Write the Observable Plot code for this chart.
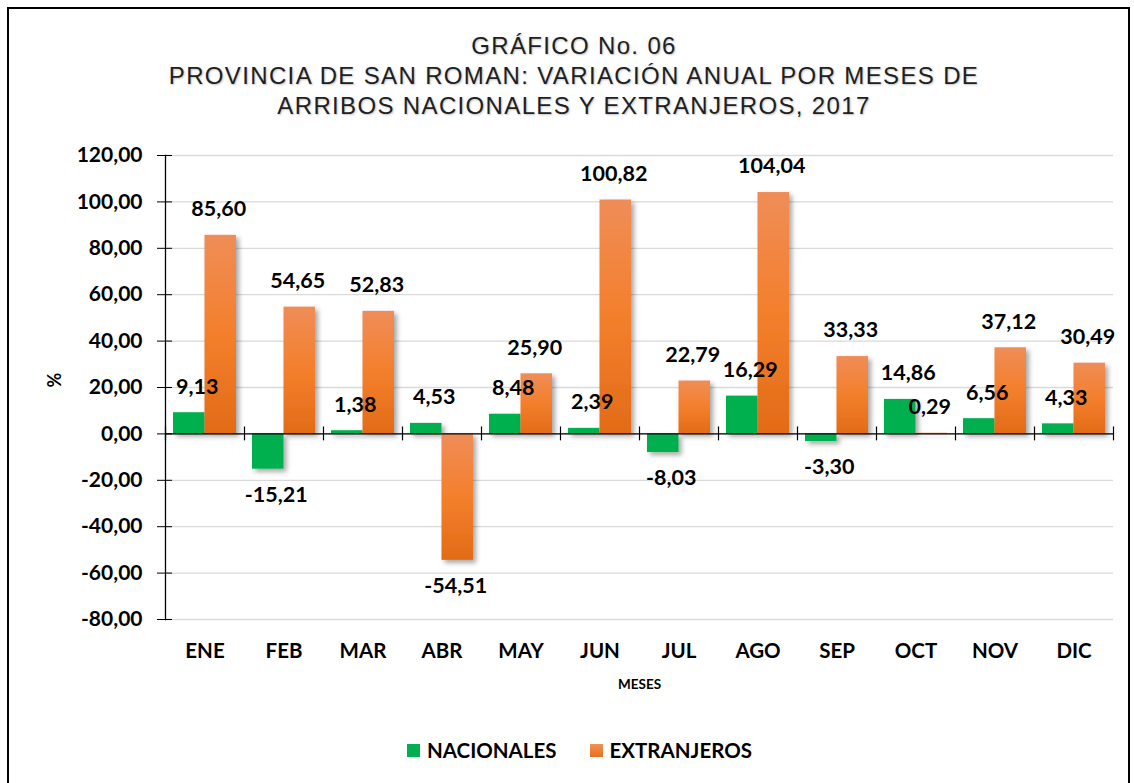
<!DOCTYPE html>
<html>
<head>
<meta charset="utf-8">
<script src="https://cdn.jsdelivr.net/npm/d3@7"></script>
<script src="https://cdn.jsdelivr.net/npm/@observablehq/plot@0.6"></script>
<style>
  html, body { margin: 0; padding: 0; background: #fff; }
  body { width: 1134px; height: 783px; position: relative; overflow: hidden; font-family: Lato, "Open Sans", sans-serif; }
  #border { position: absolute; left: 7px; top: 7px; width: 1123px; height: 820px; border: 2px solid #000; box-sizing: border-box; }
  #title { position: absolute; left: 0; top: 31px; width: 1148px; text-align: center; font-family: "Liberation Sans", Arial, sans-serif; font-size: 24px; line-height: 30px; letter-spacing: 1.35px; color: #1f1f1f; text-shadow: 1px 1px 2px rgba(0,0,0,0.25); }
  #chart { position: absolute; left: 0; top: 130px; }
  #legend { position: absolute; left: 0; top: 738px; width: 1159px; display: flex; justify-content: center; align-items: center; font-family: Lato, sans-serif; font-weight: bold; font-size: 20.5px; color: #000; }
  .item { display: flex; align-items: center; }
  .sw { width: 13px; height: 13px; margin-right: 7px; }
</style>
</head>
<body>
<div id="border"></div>
<div id="title">GRÁFICO No. 06<br>PROVINCIA DE SAN ROMAN: VARIACIÓN ANUAL POR MESES DE<br>ARRIBOS NACIONALES Y EXTRANJEROS, 2017</div>
<div id="chart"></div>
<div id="legend">
  <div class="item"><div class="sw" style="background:#00B050"></div><span>NACIONALES</span></div>
  <div class="item" style="margin-left:33px"><div class="sw" style="background:linear-gradient(#F09058,#E8701C)"></div><span>EXTRANJEROS</span></div>
</div>
<script>
const months = ["ENE","FEB","MAR","ABR","MAY","JUN","JUL","AGO","SEP","OCT","NOV","DIC"];
const nacionales = [9.13, -15.21, 1.38, 4.53, 8.48, 2.39, -8.03, 16.29, -3.30, 14.86, 6.56, 4.33];
const extranjeros = [85.60, 54.65, 52.83, -54.51, 25.90, 100.82, 22.79, 104.04, 33.33, 0.29, 37.12, 30.49];
const yTicks = [-80, -60, -40, -20, 0, 20, 40, 60, 80, 100, 120];

const fmt = v => v.toFixed(2).replace(".", ",");
const nac = months.map((m, i) => ({month: m, value: nacionales[i]}));
const ext = months.map((m, i) => ({month: m, value: extranjeros[i]}));

const W = 1134, mL = 165, mR = 21;
const bw = (W - mL - mR) / months.length;
const half = bw / 2;
const gap = 8;
const gOff = -(half - (gap + half) / 2); // green bar center offset from band center
const oOff = -gOff;

const labelFont = {fontSize: 21.5, fontWeight: "bold", fill: "#000", fontFamily: "Lato"};

const chart = Plot.plot({
  width: W,
  height: 600,
  marginLeft: mL,
  marginRight: mR,
  marginTop: 25,
  marginBottom: 111,
  x: {domain: months, padding: 0},
  y: {domain: [-80, 120]},
  style: {fontFamily: "Lato", background: "transparent", color: "#000"},
  marks: [
    Plot.gridY(yTicks, {stroke: "#d9d9d9", strokeOpacity: 1, strokeWidth: 1.3}),
    Plot.barY(nac, {x: "month", y: "value", fill: "#00B050", insetLeft: gap, insetRight: half}),
    Plot.barY(ext, {x: "month", y: "value", fill: "url(#gradOrange)", insetLeft: half, insetRight: gap}),
    Plot.ruleY([0], {stroke: "#000", strokeWidth: 1.3}),
    Plot.ruleX(months, {x: d => d, y1: -3, y2: 3, dx: -half, stroke: "#000", strokeWidth: 1.2}),
    Plot.ruleX(months.slice(-1), {x: d => d, y1: -3, y2: 3, dx: half, stroke: "#000", strokeWidth: 1.2}),
    Plot.frame({anchor: "left", stroke: "#000", strokeWidth: 1.3}),
    Plot.axisY(yTicks, {tickSize: 15, dx: 7, tickPadding: 15, tickFormat: fmt, fontSize: 21, fontWeight: "bold", label: null}),
    Plot.axisX({tickSize: 0, tickPadding: 24, fontSize: 20.5, fontWeight: "bold", label: null}),
    Plot.text(nac.filter(d => d.value >= 0), {x: "month", y: "value", text: d => fmt(d.value), dx: gOff + 8, dy: -26, ...labelFont}),
    Plot.text(nac.filter(d => d.value < 0), {x: "month", y: "value", text: d => fmt(d.value), dx: gOff + 8, dy: 26, ...labelFont}),
    Plot.text(ext.filter(d => d.value >= 0), {x: "month", y: "value", text: d => fmt(d.value), dx: oOff - 2, dy: -26, ...labelFont}),
    Plot.text(ext.filter(d => d.value < 0), {x: "month", y: "value", text: d => fmt(d.value), dx: oOff - 2, dy: 26, ...labelFont}),
    Plot.text(["MESES"], {frameAnchor: "bottom", text: d => d, dy: 69, fontSize: 13.5, fontWeight: "bold", fill: "#000"}),
    Plot.text(["%"], {frameAnchor: "left", text: d => d, dx: -110, rotate: -90, fontSize: 18, fontWeight: "bold", fill: "#000"})
  ]
});

const svg = d3.select(chart);
const defs = svg.insert("defs", ":first-child");
const g = defs.append("linearGradient").attr("id", "gradOrange").attr("x1", 0).attr("y1", 0).attr("x2", 0).attr("y2", 1);
g.append("stop").attr("offset", "0%").attr("stop-color", "#EF8D57");
g.append("stop").attr("offset", "50%").attr("stop-color", "#F47F2C");
g.append("stop").attr("offset", "100%").attr("stop-color", "#E26B17");
const f = defs.append("filter").attr("id", "shadow").attr("x", "-20%").attr("y", "-20%").attr("width", "150%").attr("height", "150%");
f.append("feDropShadow").attr("dx", 3).attr("dy", 3).attr("stdDeviation", 2.5).attr("flood-color", "#000").attr("flood-opacity", 0.35);
svg.selectAll("g[aria-label='bar']").attr("filter", "url(#shadow)");

document.getElementById("chart").appendChild(chart);
</script>
</body>
</html>
